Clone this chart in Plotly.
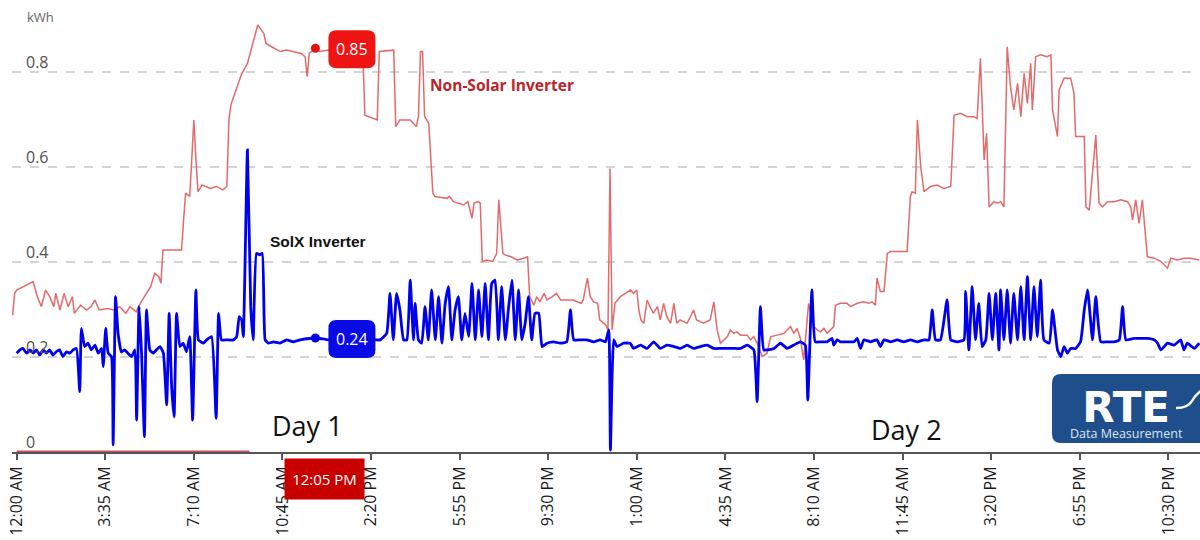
import plotly.graph_objects as go

# ---------------- data (minutes since 12:00 AM of Day 1, kWh) ----------------
tick_labels = ["12:00 AM", "3:35 AM", "7:10 AM", "10:45 AM", "2:20 PM", "5:55 PM", "9:30 PM",
               "1:00 AM", "4:35 AM", "8:10 AM", "11:45 AM", "3:20 PM", "6:55 PM", "10:30 PM"]
tick_minutes = [0, 215, 430, 645, 860, 1075, 1290, 1505, 1720, 1935, 2150, 2365, 2580, 2795]
y_ticks = [0, 0.2, 0.4, 0.6, 0.8]
y_tick_labels = ["0", "0.2", "0.4", "0.6", "0.8"]

nonsolar_readings = [
    (-10, 0.288), (-5, 0.334), (0, 0.341), (15, 0.348), (30, 0.355), (40, 0.359), (50, 0.327), (60, 0.306),
    (70, 0.341), (80, 0.327), (90, 0.306), (95, 0.334), (105, 0.299), (115, 0.334), (125, 0.306), (135, 0.327),
    (140, 0.292), (155, 0.309), (170, 0.299), (180, 0.306), (190, 0.320), (200, 0.299), (220, 0.302), (235, 0.299),
    (250, 0.306), (265, 0.292), (275, 0.306), (290, 0.295), (300, 0.313), (310, 0.327), (325, 0.348), (335, 0.376),
    (345, 0.369), (350, 0.355), (355, 0.425), (365, 0.425), (400, 0.425), (405, 0.488), (410, 0.545), (420, 0.538),
    (430, 0.699), (435, 0.615), (440, 0.548), (450, 0.562), (470, 0.555), (485, 0.559), (500, 0.552), (510, 0.559),
    (515, 0.699), (520, 0.731), (535, 0.769), (545, 0.794), (560, 0.818), (575, 0.867), (585, 0.899), (600, 0.881),
    (605, 0.860), (625, 0.850), (640, 0.843), (655, 0.846), (670, 0.843), (690, 0.839), (700, 0.832), (705, 0.790),
    (710, 0.839), (725, 0.850), (735, 0.843), (755, 0.846), (810, 0.846), (840, 0.846), (845, 0.709), (875, 0.699),
    (880, 0.843), (915, 0.846), (920, 0.685), (930, 0.699), (955, 0.699), (970, 0.685), (975, 0.706), (980, 0.843),
    (985, 0.843), (990, 0.706), (1000, 0.692), (1005, 0.629), (1010, 0.545), (1015, 0.538), (1045, 0.534),
    (1050, 0.538), (1060, 0.527), (1070, 0.524), (1085, 0.520), (1095, 0.527), (1105, 0.492), (1110, 0.524),
    (1120, 0.527), (1125, 0.524), (1130, 0.401), (1140, 0.404), (1155, 0.401), (1165, 0.418), (1170, 0.531),
    (1180, 0.418), (1185, 0.415), (1200, 0.411), (1215, 0.404), (1230, 0.408), (1240, 0.411), (1245, 0.327),
    (1255, 0.309), (1262, 0.327), (1270, 0.316), (1280, 0.334), (1287, 0.320), (1300, 0.327), (1310, 0.334),
    (1320, 0.320), (1335, 0.320), (1350, 0.320), (1370, 0.313), (1375, 0.320), (1385, 0.366), (1392, 0.327),
    (1400, 0.316), (1410, 0.313), (1415, 0.278), (1430, 0.267), (1435, 0.257), (1440, 0.597), (1445, 0.257),
    (1452, 0.313), (1465, 0.327), (1477, 0.334), (1490, 0.341), (1497, 0.334), (1505, 0.341), (1510, 0.299),
    (1515, 0.278), (1522, 0.271), (1530, 0.320), (1537, 0.306), (1545, 0.292), (1555, 0.306), (1562, 0.278),
    (1570, 0.313), (1578, 0.285), (1587, 0.271), (1595, 0.313), (1602, 0.271), (1610, 0.278), (1627, 0.271),
    (1643, 0.299), (1650, 0.278), (1667, 0.271), (1683, 0.278), (1692, 0.316), (1700, 0.257), (1708, 0.229),
    (1725, 0.243), (1732, 0.257), (1740, 0.250), (1748, 0.253), (1757, 0.246), (1773, 0.246), (1781, 0.236),
    (1789, 0.243), (1801, 0.222), (1809, 0.201), (1821, 0.208), (1830, 0.243), (1846, 0.246), (1862, 0.250),
    (1878, 0.264), (1886, 0.250), (1894, 0.260), (1902, 0.239), (1910, 0.194), (1922, 0.313), (1935, 0.264),
    (1943, 0.257), (1951, 0.253), (1959, 0.260), (1967, 0.250), (1975, 0.257), (1983, 0.264), (1987, 0.309),
    (1999, 0.313), (2015, 0.313), (2024, 0.306), (2040, 0.313), (2056, 0.316), (2068, 0.313), (2076, 0.316),
    (2084, 0.309), (2088, 0.366), (2096, 0.338), (2105, 0.338), (2113, 0.418), (2121, 0.422), (2161, 0.422),
    (2169, 0.538), (2173, 0.548), (2181, 0.545), (2186, 0.699), (2194, 0.601), (2202, 0.548), (2218, 0.559),
    (2234, 0.562), (2250, 0.555), (2267, 0.559), (2275, 0.709), (2291, 0.713), (2307, 0.706), (2323, 0.706),
    (2331, 0.702), (2339, 0.829), (2348, 0.615), (2354, 0.671), (2360, 0.516), (2372, 0.527), (2380, 0.524),
    (2388, 0.527), (2396, 0.516), (2404, 0.853), (2412, 0.769), (2420, 0.720), (2429, 0.776), (2437, 0.706),
    (2445, 0.797), (2453, 0.734), (2461, 0.818), (2465, 0.720), (2473, 0.832), (2485, 0.836), (2501, 0.832),
    (2510, 0.836), (2514, 0.720), (2526, 0.664), (2530, 0.762), (2542, 0.787), (2558, 0.787), (2566, 0.755),
    (2570, 0.664), (2591, 0.664), (2595, 0.516), (2603, 0.509), (2611, 0.580), (2619, 0.667), (2627, 0.524),
    (2635, 0.516), (2647, 0.527), (2663, 0.527), (2680, 0.531), (2696, 0.527), (2704, 0.516), (2708, 0.488),
    (2716, 0.531), (2724, 0.481), (2732, 0.531), (2744, 0.411), (2761, 0.408), (2777, 0.401), (2793, 0.387),
    (2801, 0.408), (2817, 0.404), (2833, 0.408), (2850, 0.408), (2870, 0.404),
]

solx_readings = [
    (0, 0.208), (8, 0.215), (15, 0.218), (24, 0.208), (32, 0.215), (40, 0.208), (48, 0.215), (56, 0.204),
    (64, 0.215), (72, 0.208), (80, 0.215), (88, 0.204), (96, 0.211), (104, 0.215), (112, 0.201), (121, 0.211),
    (129, 0.208), (137, 0.215), (145, 0.218), (153, 0.127), (157, 0.260), (165, 0.222), (173, 0.229), (181, 0.215),
    (190, 0.225), (198, 0.208), (206, 0.218), (210, 0.180), (216, 0.260), (222, 0.208), (230, 0.201), (234, 0.015),
    (240, 0.327), (246, 0.250), (254, 0.211), (262, 0.215), (270, 0.208), (279, 0.201), (287, 0.215), (291, 0.067),
    (297, 0.306), (303, 0.208), (310, 0.032), (315, 0.299), (323, 0.215), (331, 0.208), (339, 0.215), (348, 0.222),
    (356, 0.208), (364, 0.099), (370, 0.292), (376, 0.138), (382, 0.074), (388, 0.292), (396, 0.222), (404, 0.229),
    (412, 0.211), (420, 0.243), (427, 0.067), (435, 0.341), (441, 0.236), (453, 0.229), (461, 0.236), (473, 0.243),
    (484, 0.071), (490, 0.292), (497, 0.236), (510, 0.236), (526, 0.236), (534, 0.243), (540, 0.285), (546, 0.278),
    (550, 0.243), (560, 0.636), (568, 0.306), (574, 0.236), (582, 0.418), (590, 0.415), (596, 0.418), (603, 0.236),
    (611, 0.229), (623, 0.232), (639, 0.229), (655, 0.236), (671, 0.232), (688, 0.236), (725, 0.240), (757, 0.236),
    (870, 0.236), (882, 0.236), (898, 0.250), (906, 0.334), (914, 0.236), (922, 0.334), (930, 0.300), (939, 0.236),
    (947, 0.236), (955, 0.362), (963, 0.236), (967, 0.313), (975, 0.236), (983, 0.229), (991, 0.306), (999, 0.236),
    (1007, 0.341), (1016, 0.236), (1024, 0.327), (1032, 0.229), (1040, 0.313), (1048, 0.348), (1056, 0.236),
    (1064, 0.299), (1072, 0.327), (1080, 0.236), (1088, 0.292), (1097, 0.243), (1105, 0.355), (1113, 0.236),
    (1121, 0.341), (1129, 0.243), (1137, 0.355), (1145, 0.236), (1153, 0.355), (1161, 0.362), (1169, 0.236),
    (1177, 0.348), (1186, 0.236), (1194, 0.306), (1202, 0.362), (1210, 0.236), (1218, 0.341), (1226, 0.236),
    (1234, 0.271), (1242, 0.327), (1250, 0.236), (1258, 0.292), (1267, 0.292), (1275, 0.222), (1287, 0.229),
    (1303, 0.232), (1319, 0.229), (1335, 0.232), (1344, 0.299), (1352, 0.236), (1368, 0.236), (1384, 0.236),
    (1400, 0.232), (1416, 0.236), (1429, 0.232), (1437, 0.257), (1441, 0.004), (1449, 0.236), (1457, 0.222),
    (1473, 0.229), (1489, 0.229), (1497, 0.218), (1514, 0.225), (1530, 0.218), (1546, 0.232), (1562, 0.218),
    (1578, 0.225), (1595, 0.222), (1611, 0.218), (1627, 0.225), (1643, 0.218), (1659, 0.222), (1676, 0.225),
    (1692, 0.218), (1708, 0.218), (1724, 0.218), (1740, 0.218), (1757, 0.218), (1773, 0.225), (1789, 0.215),
    (1797, 0.106), (1805, 0.306), (1813, 0.215), (1821, 0.215), (1838, 0.218), (1854, 0.229), (1870, 0.218),
    (1886, 0.225), (1902, 0.232), (1914, 0.225), (1920, 0.109), (1930, 0.341), (1938, 0.232), (1951, 0.232),
    (1967, 0.232), (1979, 0.239), (1983, 0.225), (1991, 0.236), (1999, 0.232), (2015, 0.232), (2032, 0.232),
    (2040, 0.239), (2048, 0.218), (2056, 0.236), (2072, 0.232), (2088, 0.236), (2096, 0.222), (2105, 0.236),
    (2121, 0.232), (2137, 0.236), (2153, 0.232), (2169, 0.236), (2186, 0.232), (2202, 0.236), (2214, 0.236),
    (2222, 0.299), (2230, 0.236), (2242, 0.236), (2258, 0.320), (2267, 0.236), (2283, 0.232), (2299, 0.236),
    (2303, 0.338), (2311, 0.215), (2319, 0.348), (2327, 0.236), (2335, 0.313), (2343, 0.222), (2352, 0.236),
    (2360, 0.334), (2368, 0.236), (2376, 0.334), (2384, 0.215), (2388, 0.341), (2396, 0.236), (2404, 0.341),
    (2412, 0.229), (2420, 0.334), (2429, 0.236), (2437, 0.348), (2445, 0.236), (2453, 0.369), (2461, 0.236),
    (2469, 0.348), (2477, 0.243), (2485, 0.362), (2493, 0.236), (2506, 0.229), (2514, 0.299), (2526, 0.215),
    (2534, 0.201), (2542, 0.222), (2550, 0.208), (2558, 0.218), (2570, 0.218), (2582, 0.232), (2591, 0.299),
    (2599, 0.341), (2611, 0.236), (2619, 0.327), (2631, 0.232), (2647, 0.232), (2663, 0.232), (2676, 0.236),
    (2684, 0.306), (2692, 0.236), (2712, 0.239), (2728, 0.239), (2744, 0.239), (2761, 0.236), (2769, 0.229),
    (2777, 0.215), (2793, 0.229), (2809, 0.225), (2825, 0.236), (2833, 0.215), (2841, 0.229), (2858, 0.218),
    (2870, 0.229),
]

baseline_minutes = [0, 565]
baseline_kwh = [0, 0]

highlight_minute = 725
highlight_label = "12:05 PM"
day_labels = [("Day 1", 705, 0.055), ("Day 2", 2160, 0.048)]

# ---------------- figure ----------------
ns_t = [p[0] for p in nonsolar_readings]
ns_v = [p[1] for p in nonsolar_readings]
sx_t = [p[0] for p in solx_readings]
sx_v = [p[1] for p in solx_readings]
ns_hi = dict(nonsolar_readings)[highlight_minute]
sx_hi = dict(solx_readings)[highlight_minute]

RED_LINE = "#e36a6a"
BLUE_LINE = "#0000ee"

fig = go.Figure()
fig.add_trace(go.Scatter(x=baseline_minutes, y=baseline_kwh, mode="lines",
                         line=dict(color="#d05050", width=3), hoverinfo="skip"))
fig.add_trace(go.Scatter(x=ns_t, y=ns_v, mode="lines", name="Non-Solar Inverter",
                         line=dict(color=RED_LINE, width=1.5)))
fig.add_trace(go.Scatter(x=sx_t, y=sx_v, mode="lines", name="SolX Inverter",
                         line=dict(color=BLUE_LINE, width=2.8, shape="spline", smoothing=0.4)))
fig.add_trace(go.Scatter(x=[highlight_minute], y=[ns_hi], mode="markers",
                         marker=dict(color="#e81010", size=9), cliponaxis=False))
fig.add_trace(go.Scatter(x=[highlight_minute], y=[sx_hi], mode="markers",
                         marker=dict(color="#0000e0", size=9), cliponaxis=False))


def rounded_box(x0, x1, y0, y1, r):
    return (f"M {x0 + r},{y0} L {x1 - r},{y0} Q {x1},{y0} {x1},{y0 + r} "
            f"L {x1},{y1 - r} Q {x1},{y1} {x1 - r},{y1} L {x0 + r},{y1} "
            f"Q {x0},{y1} {x0},{y1 - r} L {x0},{y0 + r} Q {x0},{y0} {x0 + r},{y0} Z")


shapes = []
for val, col in [(ns_hi, "#ee1414"), (sx_hi, "#0a0ae6")]:
    shapes.append(dict(type="path", xref="x", yref="y", xsizemode="pixel", ysizemode="pixel",
                       xanchor=highlight_minute, yanchor=val,
                       path=rounded_box(13, 60, -20, 18, 8),
                       fillcolor=col, line=dict(width=0), layer="above"))
# logo badge
shapes.append(dict(type="path", xref="paper", yref="paper", xsizemode="pixel", ysizemode="pixel",
                   xanchor=1, yanchor=0, path=rounded_box(-148, 20, 9, 78, 9),
                   fillcolor="#1f4e8c", line=dict(width=0), layer="above"))
shapes.append(dict(type="path", xref="paper", yref="paper", xsizemode="pixel", ysizemode="pixel",
                   xanchor=1, yanchor=0, path="M -24,44 Q -12,44 -8,51 Q -4,58 2,62",
                   line=dict(color="white", width=2.5), layer="above"))

annotations = [
    dict(text="kWh", xref="paper", yref="paper", x=0.011, y=0.973, xanchor="left", yanchor="middle",
         showarrow=False, font=dict(family="Open Sans", size=13, color="#666666")),
    dict(text=f"{ns_hi:.2f}", x=highlight_minute, y=ns_hi, xref="x", yref="y", xshift=36.5, yshift=-1,
         showarrow=False, font=dict(family="Open Sans", size=16, color="white")),
    dict(text=f"{sx_hi:.2f}", x=highlight_minute, y=sx_hi, xref="x", yref="y", xshift=36.5, yshift=-1,
         showarrow=False, font=dict(family="Open Sans", size=16, color="white")),
    dict(text="Non-Solar Inverter", x=998, y=0.773, xref="x", yref="y", xanchor="left", yanchor="middle",
         showarrow=False, font=dict(family="Open Sans", size=15.5, color="#b8252a", weight="bold")),
    dict(text="SolX Inverter", x=610, y=0.444, xref="x", yref="y", xanchor="left", yanchor="middle",
         showarrow=False, font=dict(family="Liberation Sans", size=15.5, color="#111111", weight="bold")),
    dict(text=highlight_label, x=highlight_minute, y=0, xref="x", yref="y", yanchor="top", xshift=9.5,
         yshift=-6, width=79, height=40, borderpad=0, bgcolor="#c80000", showarrow=False,
         font=dict(family="Open Sans", size=15, color="white")),
    dict(text="▲", x=highlight_minute, y=0, xref="x", yref="y", yanchor="top", yshift=-1,
         showarrow=False, font=dict(size=8, color="#c80000")),
    dict(text=("<span style='font-size:42px;font-family:DejaVu Sans'><b>RTE</b></span><br>"
               "<span style='color:#dce6f2'>Data Measurement</span>"),
         xref="paper", yref="paper", x=0.9385, y=0.018, xanchor="center", yanchor="bottom",
         showarrow=False, font=dict(family="Open Sans", size=12.5, color="white")),
]
for val, txt in zip(y_ticks, y_tick_labels):
    annotations.append(dict(text=txt, x=0, y=val, xref="paper", yref="y", xanchor="left",
                            yanchor="bottom", xshift=12, yshift=-3, showarrow=False,
                            font=dict(family="Open Sans", size=16, color="#505050")))
for txt, xm, yv in day_labels:
    annotations.append(dict(text=txt, x=xm, y=yv, xref="x", yref="y", showarrow=False,
                            font=dict(family="Open Sans", size=27, color="#111111")))

fig.update_layout(
    width=1200, height=540,
    margin=dict(l=12, r=0, t=5, b=88),
    paper_bgcolor="white", plot_bgcolor="white",
    showlegend=False,
    shapes=shapes, annotations=annotations,
    xaxis=dict(range=[-11.4, 2871.9], tickmode="array", tickvals=tick_minutes, ticktext=tick_labels,
               tickangle=-90, ticks="outside", ticklen=6, tickwidth=2, tickcolor="#555555",
               ticklabeloverflow="allow",
               showline=True, linecolor="#555555", linewidth=2, showgrid=False, zeroline=False,
               tickfont=dict(family="Open Sans", size=16, color="#1a1a1a"), layer="below traces"),
    yaxis=dict(range=[0, 0.941], tickmode="array", tickvals=y_ticks, showticklabels=False,
               showgrid=True, gridcolor="#d4d4d4", gridwidth=1.5, griddash="dash",
               zeroline=False, showline=False, ticks="", layer="below traces"),
)

fig.write_html("out.html", config={"displayModeBar": False},
               post_script="document.body.style.margin='0';document.body.style.overflow='hidden';")
